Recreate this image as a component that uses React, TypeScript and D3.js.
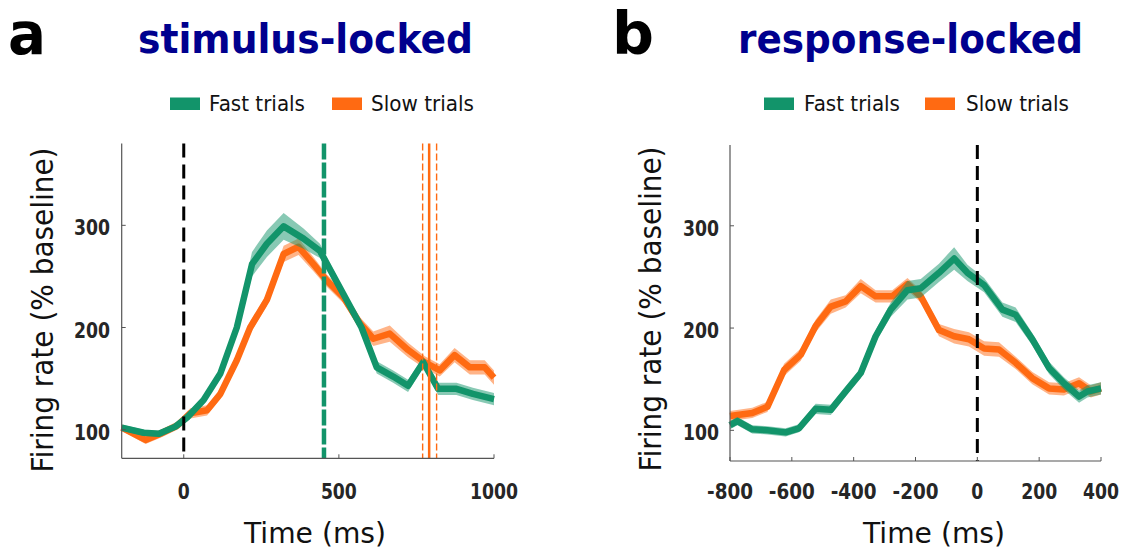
import React from "react";
import * as d3 from "d3";

// ---------- data ----------
// Panel a: stimulus-locked
const fastA_t = [-200, -129, -80, -27, 11, 64, 118, 171, 220, 268, 322, 386, 439, 514, 573, 622, 675, 723, 772, 820, 879, 932, 1000];
const fastA_v = [102, 97, 96, 103, 112, 129, 155, 200, 262, 282, 299, 287, 275, 233, 200, 161, 152, 143, 166, 140, 140, 135, 130];
const fastA_e = [3, 3, 3, 3, 4, 4, 5, 6, 12, 13, 13, 10, 7, 5, 5, 6, 6, 6, 5, 6, 6, 6, 6];

const slowA_t = [-200, -123, -75, -21, 21, 75, 118, 171, 214, 268, 322, 370, 418, 461, 514, 568, 611, 664, 723, 777, 825, 873, 922, 970, 1000];
const slowA_v = [102, 90, 96, 104, 116, 119, 135, 168, 200, 227, 272, 279, 262, 246, 230, 204, 189, 194, 178, 166, 158, 173, 161, 161, 151];
const slowA_e = [3, 4, 4, 4, 5, 5, 5, 6, 6, 6, 8, 8, 7, 6, 6, 6, 7, 8, 7, 6, 6, 7, 7, 7, 7];

const fastRT_A = 452;
const slowRT_A = 791;
const slowRT_A_ci = [770, 815];

// Panel b: response-locked
const fastB_t = [-800, -776, -728, -679, -620, -577, -523, -474, -426, -377, -329, -280, -226, -183, -124, -75, -32, 22, 81, 124, 178, 232, 280, 329, 356, 400];
const fastB_v = [105, 109, 101, 100, 98, 102, 121, 120, 138, 156, 192, 218, 237, 239, 254, 268, 254, 242, 218, 213, 189, 161, 146, 133, 138, 141];
const fastB_e = [4, 4, 4, 4, 4, 4, 5, 5, 5, 5, 6, 7, 9, 9, 9, 11, 8, 7, 7, 7, 6, 6, 6, 6, 6, 6];

const slowB_t = [-800, -728, -679, -625, -571, -523, -474, -426, -377, -329, -275, -226, -183, -124, -75, -27, 22, 70, 124, 178, 232, 280, 329, 367, 400];
const slowB_v = [114, 117, 123, 159, 174, 202, 221, 226, 241, 231, 231, 243, 231, 198, 192, 189, 180, 179, 166, 151, 141, 140, 146, 138, 141];
const slowB_e = [5, 5, 5, 6, 6, 6, 7, 6, 7, 6, 6, 6, 6, 6, 7, 7, 7, 7, 6, 6, 6, 6, 6, 6, 6];

const yTicks = [100, 200, 300];
const xTicksA = [0, 500, 1000];
const xTicksB = [-800, -600, -400, -200, 0, 200, 400];

const legendLabels = ["Fast trials", "Slow trials"];

// ---------- style ----------
const GREEN = "#12946a";
const ORANGE = "#ff6a12";
const GREEN_BAND = "rgba(18,148,106,0.5)";
const ORANGE_BAND = "rgba(255,106,18,0.5)";
const NAVY = "#00008e";
const AXIS = "#555";
const TICKTXT = "#262626";
const FONT = "'DejaVu Sans', Verdana, sans-serif";

type Pt = { t: number; v: number; e: number };
const zip = (t: number[], v: number[], e: number[]): Pt[] => t.map((tt, i) => ({ t: tt, v: v[i], e: e[i] }));

function tickLen(s: string) {
  let w = 0;
  for (const c of s) w += c === "-" ? 10 : 12;
  return w;
}

function Series({ data, x, y, color, band }: any) {
  const area = d3.area<Pt>().x((d) => x(d.t)).y0((d) => y(d.v - d.e)).y1((d) => y(d.v + d.e));
  const line = d3.line<Pt>().x((d) => x(d.t)).y((d) => y(d.v));
  return (
    <g>
      <path d={area(data) || ""} fill={band} stroke="none" />
      <path d={line(data) || ""} fill="none" stroke={color} strokeWidth={6.5} strokeLinejoin="round" />
    </g>
  );
}

function Panel({ x, y, xTicks, yLabelX, yTickX, xLabelCx, fast, slow, children, title, titleX, letter, letterX, letterLen, legendX }: any) {
  const [x0, x1] = x.range();
  const [yb, yt] = y.range();
  return (
    <g>
      <text x={letterX} y={54} fontFamily={FONT} fontWeight="bold" fontSize={58} textLength={letterLen} lengthAdjust="spacingAndGlyphs" fill="#000">{letter}</text>
      <text x={titleX[0]} y={53} fontFamily={FONT} fontWeight="bold" fontSize={41} textLength={titleX[1] - titleX[0]} lengthAdjust="spacingAndGlyphs" fill={NAVY}>{title}</text>
      {/* legend */}
      <rect x={legendX[0]} y={97.5} width={30} height={12.5} fill={GREEN} />
      <text x={legendX[1]} y={110.5} fontFamily={FONT} fontSize={22} textLength={96} lengthAdjust="spacingAndGlyphs" fill="#111">{legendLabels[0]}</text>
      <rect x={legendX[2]} y={97.5} width={30} height={12.5} fill={ORANGE} />
      <text x={legendX[3]} y={110.5} fontFamily={FONT} fontSize={22} textLength={103} lengthAdjust="spacingAndGlyphs" fill="#111">{legendLabels[1]}</text>

      {/* data */}
      <Series data={slow} x={x} y={y} color={ORANGE} band={ORANGE_BAND} />
      <Series data={fast} x={x} y={y} color={GREEN} band={GREEN_BAND} />
      {children}

      {/* axes */}
      <line x1={x0} x2={x0} y1={yt} y2={yb} stroke={AXIS} strokeWidth={1.2} />
      <line x1={x0} x2={x1} y1={yb} y2={yb} stroke={AXIS} strokeWidth={1.2} />
      {yTicks.map((v) => (
        <g key={"y" + v}>
          <line x1={x0} x2={x0 + 4} y1={y(v)} y2={y(v)} stroke={AXIS} strokeWidth={1} />
          <text x={yTickX} y={y(v) + 10} textAnchor="end" fontFamily={FONT} fontWeight="bold" fontSize={21} textLength={tickLen(String(v))} lengthAdjust="spacingAndGlyphs" fill={TICKTXT}>{v}</text>
        </g>
      ))}
      {xTicks.map((t: number) => (
        <g key={"x" + t}>
          <line x1={x(t)} x2={x(t)} y1={yb} y2={yb - 4} stroke={AXIS} strokeWidth={1} />
          <text x={x(t)} y={499} textAnchor="middle" fontFamily={FONT} fontWeight="bold" fontSize={21} textLength={tickLen(String(t))} lengthAdjust="spacingAndGlyphs" fill={TICKTXT}>{t}</text>
        </g>
      ))}
      <text x={xLabelCx} y={543} textAnchor="middle" fontFamily={FONT} fontSize={28} textLength={142} lengthAdjust="spacingAndGlyphs" fill="#111">Time (ms)</text>
      <text transform={`translate(${yLabelX[0]},${yLabelX[1]}) rotate(-90)`} textAnchor="middle" fontFamily={FONT} fontSize={30} textLength={325} lengthAdjust="spacingAndGlyphs" fill="#111">Firing rate (% baseline)</text>
    </g>
  );
}

export default function App() {
  const xA = d3.scaleLinear().domain([-200, 1000]).range([121.7, 494]);
  const yA = d3.scaleLinear().domain([72, 380]).range([458.3, 143.6]);
  const xB = d3.scaleLinear().domain([-800, 400]).range([730, 1101]);
  const yB = d3.scaleLinear().domain([70, 379]).range([461, 145]);

  const fastA = zip(fastA_t, fastA_v, fastA_e);
  const slowA = zip(slowA_t, slowA_v, slowA_e);
  const fastB = zip(fastB_t, fastB_v, fastB_e);
  const slowB = zip(slowB_t, slowB_v, slowB_e);

  const [aTop, aBot] = [yA.range()[1], yA.range()[0]];
  const [bTop, bBot] = [yB.range()[1], yB.range()[0]];

  return (
    <svg width={1127} height={556} style={{ position: "absolute", left: 0, top: 0, background: "#fff" }}>
      <rect width={1127} height={556} fill="#fff" />
      <Panel
        x={xA} y={yA} xTicks={xTicksA} yTickX={110} yLabelX={[53, 310]} xLabelCx={315}
        fast={fastA} slow={slowA}
        title="stimulus-locked" titleX={[138, 473]} letter="a" letterX={8} letterLen={38}
        legendX={[170, 209, 332, 371]}
      >
        <line x1={xA(0)} x2={xA(0)} y1={aTop} y2={aBot} stroke="#000" strokeWidth={3} strokeDasharray="14 7" />
        <line x1={xA(fastRT_A)} x2={xA(fastRT_A)} y1={aTop} y2={aBot} stroke={GREEN} strokeWidth={4.5} strokeDasharray="16 3" />
        <line x1={xA(slowRT_A)} x2={xA(slowRT_A)} y1={aTop} y2={aBot} stroke={ORANGE} strokeWidth={2.5} />
        {slowRT_A_ci.map((t) => (
          <line key={t} x1={xA(t)} x2={xA(t)} y1={aTop} y2={aBot} stroke={ORANGE} strokeWidth={1.4} strokeDasharray="7 3" />
        ))}
      </Panel>
      <Panel
        x={xB} y={yB} xTicks={xTicksB} yTickX={719} yLabelX={[661, 309]} xLabelCx={934}
        fast={fastB} slow={slowB}
        title="response-locked" titleX={[738, 1083]} letter="b" letterX={612} letterLen={42}
        legendX={[764, 804, 925, 966]}
      >
        <line x1={xB(0)} x2={xB(0)} y1={bTop} y2={bBot} stroke="#000" strokeWidth={3} strokeDasharray="14 7" />
      </Panel>
    </svg>
  );
}
